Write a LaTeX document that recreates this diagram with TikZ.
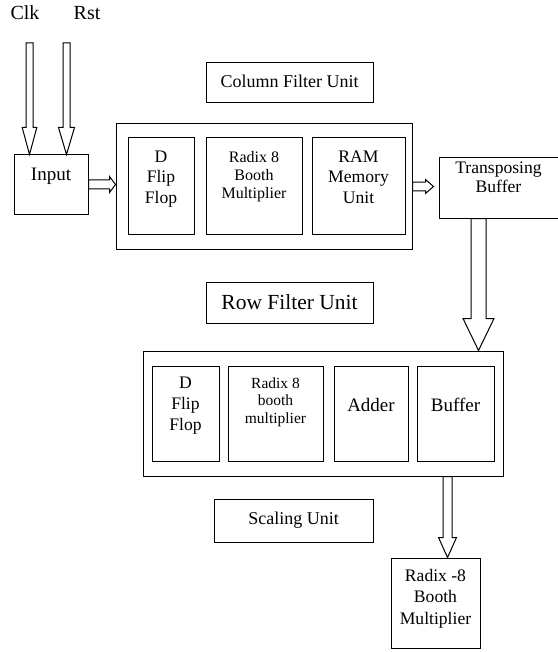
\documentclass[tikz,border=0pt]{standalone}
\usepackage{fontspec}
\setmainfont{Liberation Serif}
\usetikzlibrary{calc,fit}
\newcommand{\fsz}[2]{\fontsize{#1}{#2}\selectfont}
% hollow block arrows: from, to, shaft half width, head half width, head length
\newcommand{\fatdown}[5]{%
\path[draw,fill=white] ($(#1)+(-#3,0)$) -- ($(#2)+(-#3,-#5)$) -- ($(#2)+(-#4,-#5)$) -- (#2)
  -- ($(#2)+(#4,-#5)$) -- ($(#2)+(#3,-#5)$) -- ($(#1)+(#3,0)$) -- cycle;}
\newcommand{\fatright}[5]{%
\path[draw,fill=white] ($(#1)+(0,-#3)$) -- ($(#2)+(-#5,-#3)$) -- ($(#2)+(-#5,-#4)$) -- (#2)
  -- ($(#2)+(-#5,#4)$) -- ($(#2)+(-#5,#3)$) -- ($(#1)+(0,#3)$) -- cycle;}
\begin{document}
\begin{tikzpicture}[x=1pt,y=-1pt,line width=1pt,
  blk/.style={draw,inner sep=0pt},
  lbl/.style={anchor=north,inner sep=0pt,align=center}]
\useasboundingbox (0,0) rectangle (557,652);
% boxes
\node[blk,fit={(14,155) (88,214)}] (inp) {};
\node[blk,fit={(206,63) (373,103)}] (cfu) {};
\node[blk,fit={(116,124) (412,249)}] (col) {};
\node[blk,fit={(128,138) (194,234)}] (cdff) {};
\node[blk,fit={(206,138) (302,234)}] (crad) {};
\node[blk,fit={(312,138) (405,234)}] (cram) {};
\node[blk,fit={(439,158) (558,218)}] (tb) {};
\node[blk,fit={(206,282) (373,323)}] (rfu) {};
\node[blk,fit={(143,351) (503,476)}] (row) {};
\node[blk,fit={(152,366) (219,461)}] (rdff) {};
\node[blk,fit={(228,366) (323,461)}] (rrad) {};
\node[blk,fit={(334,366) (408,461)}] (radd) {};
\node[blk,fit={(417,366) (494,461)}] (rbuf) {};
\node[blk,fit={(214,499) (373,542)}] (su) {};
\node[blk,fit={(391,558) (480,648)}] (rbm) {};
% texts
\node[lbl,font=\fsz{20}{24}] (clk) at (25,5.5) {Clk};
\node[lbl,font=\fsz{20}{24}] (rst) at (87,5.5) {Rst};
\node[lbl,font=\fsz{19}{22}] (inpt) at ($(inp.north)+(0,13.3)$) {Input};
\node[lbl,font=\fsz{18}{21}] (cfut) at ($(cfu.north)+(0,11.7)$) {Column Filter Unit};
\node[lbl,font=\fsz{17.6}{20.5}] (cdfft) at ($(cdff.north)+(0,12.8)$) {D\\Flip\\Flop};
\node[lbl,font=\fsz{16}{18}] (cradt) at ($(crad.north)+(0,13.4)$) {Radix 8\\Booth\\Multiplier};
\node[lbl,font=\fsz{17.6}{20.5}] (cramt) at ($(cram.north)+(0,12.8)$) {RAM\\Memory\\Unit};
\node[lbl,font=\fsz{17.6}{19}] (tbt) at ($(tb.north)+(0,3.8)$) {Transposing\\Buffer};
\node[lbl,font=\fsz{21.5}{25}] (rfut) at ($(rfu.north)+(0,12.5)$) {Row Filter Unit};
\node[lbl,font=\fsz{17.6}{21}] (rdfft) at ($(rdff.north)+(0,10.8)$) {D\\Flip\\Flop};
\node[lbl,font=\fsz{15.5}{17.5}] (rradt) at ($(rrad.north)+(0,11.6)$) {Radix 8\\booth\\multiplier};
\node[lbl,font=\fsz{19}{22}] (raddt) at ($(radd.north)+(0,32.3)$) {Adder};
\node[lbl,font=\fsz{19}{22}] (rbuft) at ($(rbuf.north)+(0,32.3)$) {Buffer};
\node[lbl,font=\fsz{18}{21}] (sut) at ($(su.north)+(0,12.7)$) {Scaling Unit};
\node[lbl,font=\fsz{17.6}{21.5}] (rbmt) at ($(rbm.north)+(0,10.8)$) {Radix -8\\Booth\\Multiplier};
% arrows
\coordinate (clk0) at (29.5,43);
\coordinate (rst0) at (66.5,43);
\coordinate (clk1) at (clk0 |- inp.north);
\coordinate (rst1) at (rst0 |- inp.north);
\fatdown{clk0}{clk1}{3.5}{7.3}{27}
\fatdown{rst0}{rst1}{3.5}{8}{27}
\coordinate (inp1) at (inp.east -| col.west);
\fatright{inp.east}{inp1}{4.5}{8}{6}
\coordinate (col1) at ($(col.east -| tb.west)+(-5,0)$);
\fatright{col.east}{col1}{4.3}{7}{8}
\coordinate (tb0) at ($(tb.south)+(-20,0)$);
\coordinate (tb1) at (tb0 |- row.north);
\fatdown{tb0}{tb1}{7.5}{15.5}{32}
\coordinate (row0) at ($(row.south)+(124.5,0)$);
\coordinate (row1) at (row0 |- rbm.north);
\fatdown{row0}{row1}{4.5}{9}{20}
\end{tikzpicture}
\end{document}
